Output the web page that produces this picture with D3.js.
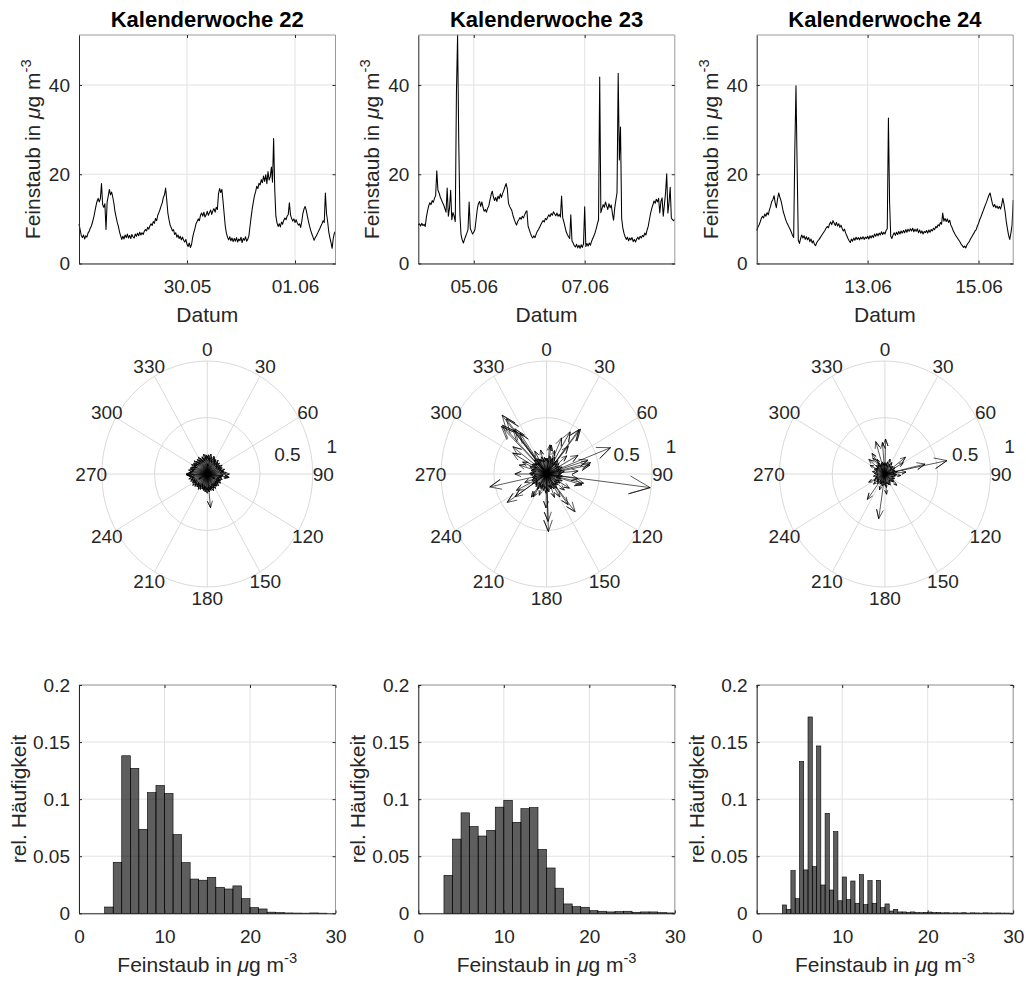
<!DOCTYPE html>
<html>
<head>
<meta charset="utf-8">
<script src="https://cdn.jsdelivr.net/npm/d3@7"></script>
<style>
  body { margin: 0; background: #fff; }
  svg { display: block; font-family: "Liberation Sans", Arial, Helvetica, sans-serif; }
</style>
</head>
<body>
<svg id="fig" width="1026" height="982"></svg>
<script>
// ---- data -------------------------------------------------------------
const weekTitles = ['Kalenderwoche 22', 'Kalenderwoche 23', 'Kalenderwoche 24'];
const weekStarts = [new Date(2018, 4, 28), new Date(2018, 5, 4), new Date(2018, 5, 11)];
const SAMPLE_MIN = 30; // one PM value every 30 minutes

const pm22 = [
  8.8, 7.6, 6.3, 5.8, 6.4, 5.5, 6.2, 5.9, 6.8, 7.2, 7.9, 8.4,
  9.3, 10.2, 11.5, 12.8, 13.9, 14.6, 13.8, 14.5, 17.9, 13.2, 12.6, 13.4,
  7.6, 13.8, 15.1, 16.6, 15.4, 16.0, 14.9, 13.5, 11.6, 10.4, 9.2, 8.3,
  7.1, 6.2, 5.4, 6.1, 5.5, 6.4, 5.8, 6.6, 5.7, 6.3, 5.6, 6.5,
  6.0, 5.7, 6.6, 6.1, 6.8, 6.2, 7.0, 6.4, 6.9, 6.5, 7.2, 7.6,
  7.3, 8.1, 7.7, 8.4, 8.9, 8.5, 9.4, 9.0, 10.1, 9.6, 10.8, 11.4,
  12.1, 12.9, 13.6, 14.8, 15.4, 16.9, 14.2, 11.3, 9.8, 8.6, 8.0, 7.3,
  7.6, 6.5, 6.9, 5.9, 6.4, 5.6, 6.1, 5.3, 5.9, 5.2, 4.8, 5.4,
  4.3, 3.8, 4.6, 3.6, 4.2, 5.8, 6.9, 7.8, 8.9, 9.4, 10.0, 9.6,
  10.8, 11.3, 10.6, 11.5, 10.4, 10.9, 11.7, 10.8, 11.4, 12.0, 11.0, 11.8,
  12.3, 11.5, 12.6, 12.1, 15.6, 16.8, 15.9, 16.6, 14.0, 11.2, 8.4, 6.8,
  5.9, 5.3, 6.0, 5.1, 5.7, 4.9, 5.6, 5.0, 5.8, 4.8, 5.5, 5.1,
  5.9, 4.7, 5.6, 5.2, 6.0, 5.0, 5.4, 6.2, 8.3, 10.4, 12.3, 13.8,
  15.2, 16.1, 17.3, 16.8, 18.0, 17.6, 18.8, 18.1, 19.6, 18.4, 19.9, 17.9,
  20.6, 18.7, 19.4, 21.6, 18.2, 28.0, 16.6, 10.6, 9.1, 8.3, 8.9, 8.2,
  9.3, 8.8, 9.7, 10.2, 9.8, 10.6, 11.0, 13.6, 10.9, 10.1, 9.5, 10.0,
  9.2, 9.8, 9.1, 8.6, 8.9, 8.1, 9.4, 11.2, 12.2, 12.8, 11.9, 10.6,
  9.4, 8.3, 7.4, 6.6, 5.9, 5.2, 5.8, 6.2, 6.7, 7.3, 7.8, 8.4,
  8.9, 9.6, 9.2, 15.8, 11.2, 9.4, 7.1, 5.8, 4.7, 3.4, 5.6, 6.8,
  7.2
];
const pm23 = [
  8.6, 8.9, 8.4, 9.0, 8.5, 8.8, 8.3, 10.4, 11.8, 12.9, 13.6, 13.2,
  14.1, 13.7, 14.6, 15.2, 20.8, 16.4, 15.8, 14.9, 14.3, 13.6, 13.1, 12.3,
  11.5, 16.9, 10.6, 12.4, 16.4, 9.8, 11.4, 10.6, 9.4, 38.2, 51.2, 27.5,
  11.0, 6.4, 5.3, 4.6, 5.4, 6.1, 6.8, 7.6, 13.8, 7.9, 7.2, 6.6,
  7.0, 7.6, 9.8, 12.1, 13.4, 13.9, 12.8, 13.8, 12.6, 11.7, 12.1, 11.5,
  12.4, 12.9, 14.2, 15.4, 16.2, 14.9, 14.1, 14.8, 13.9, 15.1, 14.5, 15.6,
  14.8, 15.7, 16.4, 17.2, 17.9, 16.8, 13.6, 12.8, 12.3, 11.8, 10.7, 9.9,
  9.2, 8.6, 9.4, 9.8, 10.3, 9.9, 10.6, 10.2, 10.9, 11.5, 11.8, 8.4,
  7.6, 6.8, 6.1, 5.7, 6.2, 5.8, 6.6, 7.2, 7.6, 8.1, 8.7, 9.2,
  9.6, 9.3, 10.1, 9.8, 10.4, 10.9, 10.5, 11.2, 10.8, 11.6, 11.1, 10.7,
  11.3, 10.6, 11.0, 10.4, 15.1, 10.2, 9.3, 8.2, 7.1, 6.5, 6.0, 5.6,
  10.9, 5.1, 4.6, 4.0, 3.7, 4.3, 3.5, 4.1, 3.4, 4.2, 3.6, 4.4,
  12.7, 3.8, 4.5, 3.9, 4.6, 4.1, 5.0, 5.6, 6.2, 6.9, 7.8, 8.9,
  9.8, 41.8, 11.4, 12.3, 13.2, 12.6, 13.8, 12.9, 12.1, 13.4, 12.5, 13.1,
  11.2, 9.7, 12.4, 14.2, 15.9, 42.6, 23.2, 30.6, 10.1, 8.0, 6.8, 6.0,
  5.4, 5.9, 5.1, 5.7, 5.3, 5.8, 4.9, 5.4, 4.8, 5.5, 5.9, 5.4,
  6.1, 5.7, 6.3, 6.0, 6.8, 6.4, 7.5, 8.3, 9.8, 11.2, 12.3, 13.1,
  14.0, 13.5, 14.4, 13.8, 14.6, 11.3, 13.9, 14.7, 10.6, 13.2, 15.8, 20.1,
  11.3, 13.6, 17.1, 10.2, 9.8, 9.6, 9.9
];
const pm24 = [
  7.4, 8.1, 8.6, 9.3, 10.1, 10.6, 10.2, 11.1, 10.6, 11.4, 10.9, 12.0,
  12.8, 13.9, 14.3, 15.2, 13.6, 12.5, 14.4, 15.8, 14.9, 14.1, 12.9, 11.6,
  10.8, 9.9, 9.2, 8.7, 8.1, 7.6, 7.0, 6.3, 5.8, 25.6, 39.8, 21.5,
  5.2, 4.5, 5.6, 6.4, 5.7, 6.2, 5.4, 6.0, 5.3, 5.8, 4.9, 5.5,
  4.6, 5.1, 4.3, 4.0, 4.7, 5.1, 5.4, 5.8, 6.2, 6.6, 7.0, 7.4,
  7.9, 8.3, 8.0, 8.8, 9.3, 8.7, 9.6, 9.1, 8.5, 9.2, 8.4, 8.9,
  8.1, 8.6, 7.8, 7.3, 7.7, 6.8, 6.2, 5.6, 5.1, 4.7, 5.5, 5.0,
  5.7, 5.2, 5.9, 5.4, 5.8, 5.3, 5.9, 5.5, 6.0, 5.4, 5.9, 5.6,
  6.1, 5.5, 6.2, 5.7, 6.3, 5.8, 6.6, 6.1, 6.7, 6.2, 6.8, 6.4,
  7.1, 6.5, 7.0, 6.6, 7.4, 7.8, 32.6, 13.8, 6.1, 5.6, 6.4, 6.9,
  6.3, 7.0, 6.5, 7.2, 6.6, 7.3, 6.8, 7.4, 6.9, 7.6, 7.0, 7.7,
  7.2, 7.8, 7.3, 7.9, 7.1, 7.7, 7.2, 7.8, 6.9, 7.5, 6.8, 7.3,
  6.6, 7.2, 6.9, 7.4, 6.8, 7.5, 7.0, 7.6, 7.3, 7.9, 7.6, 8.3,
  8.0, 8.7, 8.4, 9.2, 8.8, 11.3, 9.5, 10.1, 9.4, 10.0, 9.2, 9.7,
  8.6, 8.1, 7.4, 6.9, 6.4, 6.0, 5.6, 5.2, 4.8, 4.3, 4.0, 3.6,
  3.9, 3.5, 4.2, 4.6, 4.9, 5.5, 5.9, 6.4, 6.8, 7.3, 7.6, 8.4,
  9.0, 9.8, 10.4, 11.1, 11.8, 12.5, 13.2, 13.8, 14.6, 15.3, 15.8, 14.6,
  13.4, 12.7, 13.2, 12.5, 12.9, 12.3, 12.8, 12.2, 13.1, 14.6, 13.3, 11.6,
  9.4, 7.8, 6.3, 5.4, 6.8, 8.6, 14.2
];
const dateTicks22 = [new Date(2018, 4, 30), new Date(2018, 5, 1)];
const dateTicks23 = [new Date(2018, 5, 5), new Date(2018, 5, 7)];
const dateTicks24 = [new Date(2018, 5, 13), new Date(2018, 5, 15)];
const pmTicks = [0, 20, 40];

// wind vectors: [direction in degrees clockwise from north, normalised speed]
const wind22 = [
  [0, .16], [4, .17], [7, .14], [11, .18], [14, .15], [18, .13], [22, .17], [25, .16], [29, .14], [32, .15],
  [36, .12], [40, .16], [43, .14], [47, .13], [50, .15], [54, .12], [58, .14], [61, .16], [65, .13], [68, .15],
  [72, .14], [76, .17], [79, .15], [83, .16], [86, .18], [90, .21], [94, .15], [97, .20], [101, .14], [104, .13],
  [108, .15], [112, .12], [115, .14], [119, .13], [122, .15], [126, .12], [130, .13], [133, .15], [137, .12], [140, .14],
  [144, .13], [148, .15], [151, .12], [155, .14], [158, .16], [162, .13], [166, .15], [169, .14], [173, .16], [176, .15],
  [180, .17], [184, .14], [187, .16], [191, .13], [194, .15], [198, .14], [202, .12], [205, .15], [209, .13], [212, .16],
  [216, .14], [220, .15], [223, .13], [227, .16], [230, .15], [234, .17], [238, .14], [241, .16], [245, .15], [248, .17],
  [252, .16], [256, .18], [259, .15], [263, .17], [266, .19], [270, .20], [274, .17], [277, .16], [281, .18], [284, .15],
  [288, .17], [292, .16], [295, .14], [299, .17], [302, .15], [306, .16], [310, .14], [313, .17], [317, .15], [320, .13],
  [324, .16], [328, .14], [331, .17], [335, .15], [338, .13], [342, .16], [346, .14], [349, .18], [353, .15], [356, .17],
  [174, .30], [268, .20], [98, .21], [2, .09], [120, .08], [240, .09]
];
const wind23 = [
  [2, .14], [7, .12], [12, .16], [17, .13], [22, .15], [27, .17], [32, .12], [37, .14], [42, .16], [47, .13],
  [52, .15], [57, .12], [62, .14], [67, .16], [72, .13], [77, .15], [82, .17], [87, .14], [92, .13], [97, .15],
  [102, .12], [107, .14], [112, .16], [117, .13], [122, .15], [127, .12], [132, .14], [137, .13], [142, .16], [147, .12],
  [152, .15], [157, .13], [162, .14], [167, .12], [172, .16], [177, .15], [182, .17], [187, .13], [192, .15], [197, .12],
  [202, .14], [207, .13], [212, .16], [217, .12], [222, .15], [227, .14], [232, .13], [237, .16], [242, .12], [247, .15],
  [252, .13], [257, .14], [262, .12], [267, .15], [272, .16], [277, .13], [282, .15], [287, .14], [292, .17], [297, .13],
  [302, .16], [307, .15], [312, .14], [317, .17], [322, .13], [327, .16], [332, .15], [337, .14], [342, .16], [347, .13],
  [352, .15], [357, .14],
  [97, .99], [69, .65], [72.5, .41], [79, .42], [61, .34], [76.5, .43], [39, .51], [38, .50], [31, .435], [24, .35],
  [40, .32], [10, .26], [7, .26], [321, .67], [316, .60], [314.5, .60], [321, .50], [323, .50], [322, .62], [325, .44],
  [307, .40], [300, .37], [331, .23], [287, .27], [270, .30], [258, .55], [243, .32], [236, .45], [236, .36], [215, .25],
  [212, .24], [178, .51], [178, .42], [181, .30], [141, .43], [143, .34], [148, .24], [106, .35], [103, .36], [98, .30],
  [120, .25], [130, .22], [50, .25], [20, .22], [345, .22], [295, .25], [250, .22], [200, .20], [160, .22], [85, .30]
];
const wind24 = [
  [0, .10], [7, .09], [13, .11], [20, .08], [27, .10], [33, .12], [40, .09], [47, .10], [53, .08], [60, .11],
  [67, .09], [73, .10], [80, .12], [87, .09], [93, .11], [100, .10], [107, .08], [113, .10], [120, .09], [127, .11],
  [133, .10], [140, .08], [147, .09], [153, .11], [160, .10], [167, .09], [173, .12], [180, .10], [187, .08], [193, .11],
  [200, .09], [207, .10], [213, .08], [220, .11], [227, .10], [233, .09], [240, .12], [247, .10], [253, .09], [260, .11],
  [267, .08], [273, .10], [280, .12], [287, .09], [293, .11], [300, .10], [307, .09], [313, .11], [320, .10], [327, .12],
  [333, .09], [340, .10], [347, .11], [353, .09],
  [78.6, .60], [77, .39], [1, .31], [343, .30], [355, .28], [188.5, .40], [216.5, .28], [326, .22], [52.5, .245], [60, .20],
  [244.6, .17], [298.6, .16], [131.4, .15], [321, .18], [200, .15], [330, .15], [20, .14], [85, .20], [175, .18], [230, .14],
  [95, .15], [310, .20]
];
const compassAngles = [0, 30, 60, 90, 120, 150, 180, 210, 240, 270, 300, 330];
const compassRings = [0.5, 1];

// histograms of PM values: lower bin edges and relative frequency
const hist22Width = 1;
const hist22Edges = [3, 4, 5, 6, 7, 8, 9, 10, 11, 12, 13, 14, 15, 16, 17, 18, 19, 20, 21, 22, 23, 24, 25, 26, 27, 28];
const hist22Freq = [0.0055, 0.0447, 0.138, 0.127, 0.0736, 0.1057, 0.112, 0.105, 0.069, 0.0444, 0.030, 0.029, 0.0315,
  0.0228, 0.0213, 0.024, 0.0128, 0.005, 0.0038, 0.001, 0.0006, 0.0003, 0.0002, 0.0001, 0.0003, 0.0001];
const hist23Width = 1;
const hist23Edges = [3, 4, 5, 6, 7, 8, 9, 10, 11, 12, 13, 14, 15, 16, 17, 18, 19, 20, 21, 22, 23, 24, 25, 26, 27, 28, 29];
const hist23Freq = [0.0333, 0.065, 0.088, 0.076, 0.0677, 0.0727, 0.093, 0.099, 0.0797, 0.0917, 0.0926, 0.056, 0.0397,
  0.022, 0.0082, 0.0058, 0.0053, 0.0023, 0.0018, 0.0012, 0.0015, 0.0018, 0.0009, 0.0012, 0.0012, 0.0006, 0.0003];
const hist24Width = 0.5;
const hist24Edges = [3, 3.5, 4, 4.5, 5, 5.5, 6, 6.5, 7, 7.5, 8, 8.5, 9, 9.5, 10, 10.5, 11, 11.5, 12, 12.5, 13, 13.5,
  14, 14.5, 15, 15.5, 16, 16.5, 17, 17.5, 18, 18.5, 19, 19.5, 20, 20.5, 21, 21.5, 22, 22.5, 23, 23.5, 24, 24.5, 25,
  25.5, 26, 26.5, 27, 27.5, 28, 28.5, 29, 29.5];
const hist24Freq = [0.0073, 0.0035, 0.0374, 0.0128, 0.133, 0.038, 0.172, 0.041, 0.1466, 0.0248, 0.0876, 0.0204, 0.0715,
  0.011, 0.0318, 0.012, 0.0283, 0.0088, 0.0339, 0.0076, 0.0286, 0.0088, 0.0289, 0.005, 0.0082, 0.002, 0.0035, 0.0012,
  0.0012, 0.0009, 0.0012, 0.0006, 0.0005, 0.0008, 0.0011, 0.0006, 0.0007, 0.0004, 0.0005, 0.0003, 0.0004, 0.0003,
  0.0005, 0.0002, 0.0004, 0.0003, 0.0002, 0.0004, 0.0003, 0.0002, 0.0003, 0.0002, 0.0002, 0.0001];
const histXTicks = [0, 10, 20, 30];
const histYTicks = [0, 0.05, 0.1, 0.15, 0.2];

// ---- layout -------------------------------------------------------------
const COL_LEFT = [79, 418.3, 756.7];
const AX_W = 256.5;
const TOP_Y = [35, 263.5];
const BOT_Y = [685, 913.3];
const POLAR_CY = 474, POLAR_RX = 105.5, POLAR_RY = 113;
const INK = '#262626', GRID = '#e2e2e2', BOX = '#9a9a9a', SPOKE = '#dadada';
const TICK_FS = 19, LABEL_FS = 21, TITLE_FS = 22, TICK_LEN = 3;

const weeks = [
  { title: weekTitles[0], start: weekStarts[0], pm: pm22, dateTicks: dateTicks22, wind: wind22,
    hist: { width: hist22Width, edges: hist22Edges, freq: hist22Freq } },
  { title: weekTitles[1], start: weekStarts[1], pm: pm23, dateTicks: dateTicks23, wind: wind23,
    hist: { width: hist23Width, edges: hist23Edges, freq: hist23Freq } },
  { title: weekTitles[2], start: weekStarts[2], pm: pm24, dateTicks: dateTicks24, wind: wind24,
    hist: { width: hist24Width, edges: hist24Edges, freq: hist24Freq } }
];
const pmMax = d3.max([...pm22, ...pm23, ...pm24]);

const fig = d3.select('#fig');

function pmLabel(text) {
  text.append('tspan').text('Feinstaub in ');
  text.append('tspan').attr('font-style', 'italic').text('μ');
  text.append('tspan').text('g m');
  text.append('tspan').attr('font-size', LABEL_FS * 0.7).attr('dy', -9).text('-3');
}

function drawGrid(g, x, y, xVals, yVals) {
  const [xl, xr] = x.range(), [yb, yt] = y.range();
  g.append('g').selectAll('line').data(yVals).join('line')
    .attr('x1', xl).attr('x2', xr).attr('y1', (d) => y(d)).attr('y2', (d) => y(d))
    .attr('stroke', GRID);
  g.append('g').selectAll('line').data(xVals).join('line')
    .attr('x1', (d) => x(d)).attr('x2', (d) => x(d)).attr('y1', yb).attr('y2', yt)
    .attr('stroke', GRID);
}

function drawAxes(g, x, y, xVals, yVals, xFmt, yFmt) {
  const [xl, xr] = x.range(), [yb, yt] = y.range();
  g.append('path').attr('d', `M${xl},${yt}H${xr}V${yb}`).attr('fill', 'none').attr('stroke', BOX);

  const bottom = g.append('g').attr('transform', `translate(0,${yb})`)
    .call(d3.axisBottom(x).tickValues(xVals).tickFormat(xFmt).tickSize(-TICK_LEN).tickSizeOuter(0));
  const left = g.append('g').attr('transform', `translate(${xl},0)`)
    .call(d3.axisLeft(y).tickValues(yVals).tickFormat(yFmt).tickSize(-TICK_LEN).tickSizeOuter(0).tickPadding(9));
  g.append('g').attr('transform', `translate(0,${yt})`)
    .call(d3.axisTop(x).tickValues(xVals).tickFormat('').tickSize(-TICK_LEN).tickSizeOuter(0))
    .select('.domain').remove();
  g.append('g').attr('transform', `translate(${xr},0)`)
    .call(d3.axisRight(y).tickValues(yVals).tickFormat('').tickSize(-TICK_LEN).tickSizeOuter(0))
    .select('.domain').remove();

  bottom.selectAll('text').attr('y', 29.5).attr('dy', null);
  [bottom, left].forEach((axis) => {
    axis.attr('font-family', null).attr('font-size', TICK_FS);
    axis.selectAll('text').attr('fill', INK);
  });
  g.selectAll('.tick line, .domain').attr('stroke', INK);
}

function drawCompass(g, cx, wind) {
  const px = d3.scaleLinear().domain([-1, 1]).range([cx - POLAR_RX, cx + POLAR_RX]);
  const py = d3.scaleLinear().domain([-1, 1]).range([POLAR_CY + POLAR_RY, POLAR_CY - POLAR_RY]);
  const rad = (deg) => deg * Math.PI / 180;

  g.append('g').selectAll('line').data(compassAngles).join('line')
    .attr('x1', px(0)).attr('y1', py(0))
    .attr('x2', (a) => px(Math.sin(rad(a)))).attr('y2', (a) => py(Math.cos(rad(a))))
    .attr('stroke', SPOKE);
  g.append('g').selectAll('ellipse').data(compassRings).join('ellipse')
    .attr('cx', px(0)).attr('cy', py(0))
    .attr('rx', (v) => px(v) - px(0)).attr('ry', (v) => py(0) - py(v))
    .attr('fill', 'none').attr('stroke', SPOKE);

  g.append('g').attr('font-size', TICK_FS).attr('fill', INK)
    .selectAll('text').data(compassAngles).join('text')
    .attr('x', (a) => px(1.1 * Math.sin(rad(a)))).attr('y', (a) => py(1.1 * Math.cos(rad(a))))
    .attr('dy', '0.35em').attr('text-anchor', 'middle').text((a) => a);
  g.append('g').attr('font-size', TICK_FS).attr('fill', INK)
    .selectAll('text').data(compassRings).join('text')
    .attr('x', (v) => px((v + 0.05) * Math.cos(rad(8)) + 0.09))
    .attr('y', (v) => py((v + 0.05) * Math.sin(rad(8)) + 0.1))
    .attr('dy', '0.35em').text((v) => v);

  // MATLAB style compass arrow: shaft plus head of 20 % length, 8 % half width
  const arrowPoints = ([dir, s]) => {
    const ux = Math.sin(rad(dir)), uy = Math.cos(rad(dir));
    const tip = [s * ux, s * uy];
    const back = [0.8 * s * ux, 0.8 * s * uy];
    const off = [0.08 * s * uy, -0.08 * s * ux];
    return [[0, 0], tip, [back[0] + off[0], back[1] + off[1]], tip, [back[0] - off[0], back[1] - off[1]]]
      .map(([u, v]) => [px(u), py(v)]);
  };
  g.append('g').selectAll('path').data(wind).join('path')
    .attr('d', (d) => d3.line()(arrowPoints(d)))
    .attr('fill', 'none').attr('stroke', '#000').attr('stroke-width', 0.65)
    .attr('stroke-linejoin', 'round');
}

weeks.forEach((w, k) => {
  const xl = COL_LEFT[k], xr = xl + AX_W, cx = xl + AX_W / 2;

  // time series
  const gTop = fig.append('g');
  const end = d3.timeMinute.offset(w.start, (w.pm.length - 1) * SAMPLE_MIN);
  const x = d3.scaleTime().domain([w.start, end]).range([xl, xr]);
  const y = d3.scaleLinear().domain([0, pmMax]).range([TOP_Y[1], TOP_Y[0]]);
  drawGrid(gTop, x, y, w.dateTicks, pmTicks);
  gTop.append('path')
    .datum(w.pm)
    .attr('d', d3.line()
      .x((d, i) => x(d3.timeMinute.offset(w.start, i * SAMPLE_MIN)))
      .y((d) => y(d)))
    .attr('fill', 'none').attr('stroke', '#000').attr('stroke-width', 1.05)
    .attr('stroke-linejoin', 'round');
  drawAxes(gTop, x, y, w.dateTicks, pmTicks, d3.timeFormat('%d.%m'), (d) => d);

  gTop.append('text').attr('x', cx).attr('y', 26.5).attr('text-anchor', 'middle')
    .attr('font-size', TITLE_FS).attr('font-weight', 'bold').attr('fill', '#000').text(w.title);
  gTop.append('text').attr('x', cx).attr('y', TOP_Y[1] + 58).attr('text-anchor', 'middle')
    .attr('font-size', LABEL_FS).attr('fill', INK).text('Datum');
  gTop.append('text')
    .attr('transform', `translate(${xl - 39},${(TOP_Y[0] + TOP_Y[1]) / 2}) rotate(-90)`)
    .attr('text-anchor', 'middle').attr('font-size', LABEL_FS).attr('fill', INK)
    .call(pmLabel);

  // compass
  drawCompass(fig.append('g'), cx, w.wind);

  // histogram
  const gBot = fig.append('g');
  const hx = d3.scaleLinear().domain([0, 30]).range([xl, xr]);
  const hy = d3.scaleLinear().domain([0, 0.2]).range([BOT_Y[1], BOT_Y[0]]);
  drawGrid(gBot, hx, hy, histXTicks, histYTicks);
  gBot.append('g').selectAll('rect').data(w.hist.edges).join('rect')
    .attr('x', (d) => hx(d))
    .attr('width', hx(w.hist.width) - hx(0))
    .attr('y', (d, i) => hy(w.hist.freq[i]))
    .attr('height', (d, i) => hy(0) - hy(w.hist.freq[i]))
    .attr('fill', '#000').attr('fill-opacity', 0.63)
    .attr('stroke', '#000').attr('stroke-width', 0.6);
  drawAxes(gBot, hx, hy, histXTicks, histYTicks, (d) => d, (d) => d);

  gBot.append('text').attr('x', cx).attr('y', BOT_Y[1] + 58.4).attr('text-anchor', 'middle')
    .attr('font-size', LABEL_FS).attr('fill', INK).call(pmLabel);
  gBot.append('text')
    .attr('transform', `translate(${xl - 53},${(BOT_Y[0] + BOT_Y[1]) / 2}) rotate(-90)`)
    .attr('text-anchor', 'middle').attr('font-size', LABEL_FS).attr('fill', INK)
    .text('rel. Häufigkeit');
});
</script>
</body>
</html>
